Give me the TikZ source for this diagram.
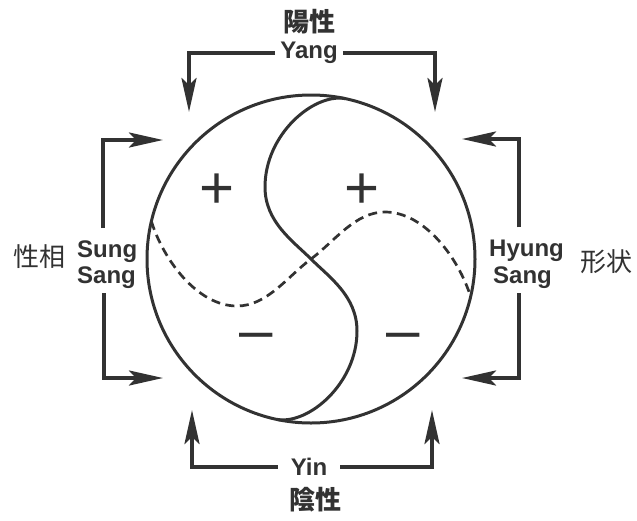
\documentclass[tikz,border=0pt]{standalone}
\usepackage{fontspec}
\setmainfont{Liberation Sans}
\newfontfamily\cjk{Noto Sans CJK JP}
\usetikzlibrary{arrows.meta}
\definecolor{ink}{RGB}{50,50,50}
\begin{document}
\begin{tikzpicture}[x=1pt,y=-1pt,
  curve/.style={draw=ink, line width=3pt},
  dashcurve/.style={draw=ink, line width=2.7pt, dash pattern=on 9pt off 5.5pt},
  arr/.style={draw=ink, line width=3.8pt, -{Stealth[length=34pt,width=15pt,inset=7pt]}},
  lat/.style={font=\fontsize{24}{26}\selectfont\bfseries, text=ink, inner sep=0pt},
  han/.style={font=\fontsize{26}{28}\selectfont\cjk, text=ink, inner sep=0pt},
  hanb/.style={font=\fontsize{26}{28}\selectfont\cjk\bfseries, text=ink, inner sep=0pt},
  sign/.style={font=\fontsize{60}{60}\selectfont, text=ink, inner sep=0pt}]
\useasboundingbox (0,0) rectangle (637,520);

% labels
\node[hanb] (yanghan) at (309,22) {陽性};
\node[lat, inner xsep=5pt] (yang) at (309,53) {Yang};
\node[lat, inner xsep=13pt] (yin) at (309,467) {Yin};
\node[hanb] (yinhan) at (315,500) {陰性};
\node[han] (sunghan) at (39,257) {性相};
\node[lat, anchor=base west] (sung) at (77,257) {Sung};
\node[lat, anchor=base west] (sangL) at (77,283) {Sang};
\node[lat, anchor=base west] (hyung) at (489,256) {Hyung};
\node[lat, anchor=base west] (sangR) at (493,283) {Sang};
\node[han] (hyunghan) at (606,262) {形状};

% arrow tips
\coordinate (tTL) at (189,112);
\coordinate (tTR) at (435,112);
\coordinate (tBL) at (192,410);
\coordinate (tBR) at (432,410);
\coordinate (tLT) at (163,140);
\coordinate (tLB) at (163,378);
\coordinate (tRT) at (462,139);
\coordinate (tRB) at (462,378);

% brackets
\draw[arr] (yang.west) -| (tTL);
\draw[arr] (yang.east) -| (tTR);
\draw[arr] (yin.west) -| (tBL);
\draw[arr] (yin.east) -| (tBR);
\draw[arr] ([xshift=-4pt,yshift=12pt]sung.north) |- (tLT);
\draw[arr] ([xshift=-2.3pt,yshift=-5pt]sangL.south) |- (tLB);
\draw[arr] ([xshift=-7.5pt,yshift=11.8pt]hyung.north) |- (tRT);
\draw[arr] ([xshift=-3.3pt,yshift=-5pt]sangR.south) |- (tRB);

% circle and curves
\coordinate (O) at (311,259);
\draw[curve] (O) circle[radius=164pt];
\draw[curve] (345.1,98.6) .. controls (314,93) and (265,134) .. (265,187)
  .. controls (265,222) and (293,241) .. (O)
  .. controls (329,277) and (357,296) .. (357,331)
  .. controls (357,384) and (308,425) .. (276.9,419.4);
\draw[dashcurve] (151.4,221.3) .. controls (163,259) and (197,306) .. (237,306)
  .. controls (267,306) and (287,277) .. (O)
  .. controls (335,241) and (355,212) .. (385,212)
  .. controls (425,212) and (459,259) .. (470.6,296.7);

% signs
\node[sign, anchor=base] (p1) at (217.5,208.5) {+};
\node[sign, anchor=base] (p2) at (362.5,208.5) {+};
\node[sign, anchor=base] (m1) at (256.5,350) {–};
\node[sign, anchor=base] (m2) at (403.5,350) {–};
\end{tikzpicture}
\end{document}
